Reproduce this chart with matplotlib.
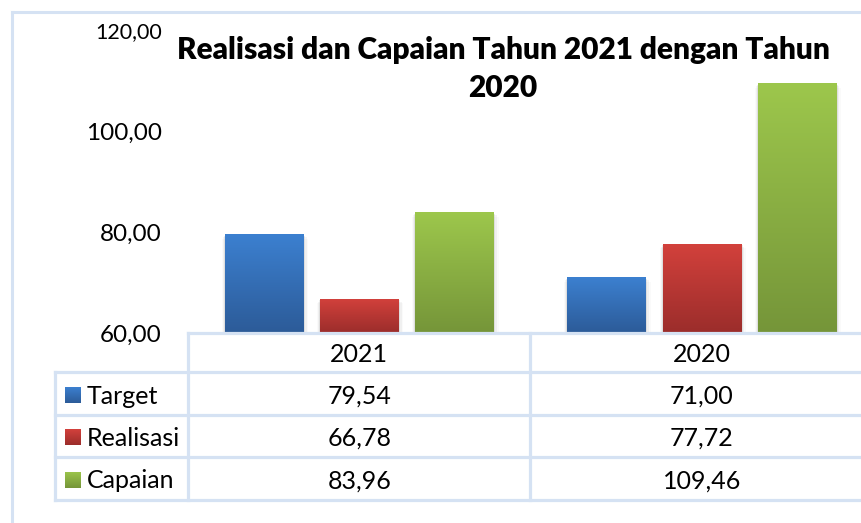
import numpy as np
import matplotlib
matplotlib.use("Agg")
import matplotlib.pyplot as plt
from matplotlib.lines import Line2D
from matplotlib.patches import Rectangle
from matplotlib.colors import LinearSegmentedColormap

# ---- data ----
categories = ["2021", "2020"]
series_names = ["Target", "Realisasi", "Capaian"]
target = [79.54, 71.00]
realisasi = [66.78, 77.72]
capaian = [83.96, 109.46]
yticks = [60, 80, 100, 120]
title_line1 = "Realisasi dan Capaian Tahun 2021 dengan Tahun"
title_line2 = "2020"

series_values = [target, realisasi, capaian]
grad = [("#3C80D0", "#2C5B98"), ("#D3413C", "#9B2D2B"), ("#9DC74C", "#759539")]

W, H = 861, 523
plt.rcParams['font.family'] = ['Lato', 'DejaVu Sans']
fig = plt.figure(figsize=(W / 100, H / 100), dpi=100)
fig.patch.set_facecolor("white")

def fx(x):
    return x / W

def fy(y):
    return 1 - y / H

grid_c = "#D5E2F3"
fs = 18

# outer chart border
fig.add_artist(Line2D([fx(12), fx(12)], [fy(12), fy(530)], color=grid_c, lw=2.2))
fig.add_artist(Line2D([fx(12), fx(870)], [fy(12), fy(12)], color=grid_c, lw=2.2))

# plot axes: x from 188 to 872 px, y 60 at 333 px, 120 at 30 px
left, right = 188, 873
ybot, ytop = 333, 30
ax = fig.add_axes([fx(left), fy(ybot), (right - left) / W, (ybot - ytop) / H])
ax.set_xlim(-0.5, 1.5)
ax.set_ylim(60, 120)
ax.patch.set_alpha(0)
for s in ax.spines.values():
    s.set_visible(False)
ax.set_xticks([])
ax.set_yticks(yticks)
ax.set_yticklabels([f"{v:.2f}".replace(".", ",") for v in yticks], fontsize=17.5)
ax.get_yticklabels()[-1].set_fontsize(15.5)
ax.tick_params(axis="y", length=0, pad=19)

x = np.arange(len(categories))
bw = 0.228
step = 0.278
grad_img = np.linspace(1, 0, 256).reshape(-1, 1)
for i, (vals, (ctop, cbot)) in enumerate(zip(series_values, grad)):
    cmap = LinearSegmentedColormap.from_list(f"g{i}", [cbot, ctop])
    bars = ax.bar(x + (i - 1) * step, [v - 60 for v in vals], bw, bottom=60,
                  color=ctop, zorder=2)
    for b in bars:
        bx, by = b.get_x(), b.get_y()
        w, h = b.get_width(), b.get_height()
        # soft shadow
        for k, a in enumerate([0.07, 0.04, 0.02]):
            d = 0.005 * (k + 1)
            sh = Rectangle((bx - d * 0.6, by), w + d * 1.6, h - 0.3 * (k + 1),
                           facecolor="black", alpha=a, lw=0, zorder=1)
            ax.add_patch(sh)
        im = ax.imshow(grad_img, cmap=cmap, aspect="auto",
                       extent=[bx, bx + w, by, by + h], zorder=3, interpolation="bilinear")
        im.set_clip_path(b)
ax.set_xlim(-0.5, 1.5)
ax.set_ylim(60, 120)

# title
fig.text(fx(503), fy(50), title_line1, ha="center", va="center", fontsize=21.5, fontweight="heavy")
fig.text(fx(503), fy(88), title_line2, ha="center", va="center", fontsize=21.5, fontweight="heavy")

# data table
lw = 2.3
row_y = [333, 372, 415, 457, 500]
for j, yy in enumerate(row_y):
    x0 = 188 if j == 0 else 55
    fig.add_artist(Line2D([fx(x0), fx(870)], [fy(yy), fy(yy)], color=grid_c, lw=lw))
fig.add_artist(Line2D([fx(55), fx(55)], [fy(372), fy(500)], color=grid_c, lw=lw))
col_x = [188, 530]
for cx in col_x:
    fig.add_artist(Line2D([fx(cx), fx(cx)], [fy(333), fy(500)], color=grid_c, lw=lw))

# header
xdisp = ax.transData.transform(np.column_stack([x, np.full(len(x), 60)]))
xcent = fig.transFigure.inverted().transform(xdisp)[:, 0]
for xc, cat in zip(xcent, categories):
    fig.text(xc, fy(354), cat, ha="center", va="center", fontsize=fs)

row_centers = [396, 438, 481]
for (name, vals, (ctop, cbot), ry) in zip(series_names, series_values, grad, row_centers):
    # legend key
    kax = fig.add_axes([fx(65), fy(ry + 7), 16 / W, 16 / H])
    kax.imshow(grad_img, cmap=LinearSegmentedColormap.from_list("k", [cbot, ctop]),
               aspect="auto", extent=[0, 1, 0, 1])
    kax.axis("off")
    fig.text(fx(87), fy(ry), name, ha="left", va="center", fontsize=fs)
    for xc, v in zip(xcent, vals):
        fig.text(xc, fy(ry), f"{v:.2f}".replace(".", ","), ha="center", va="center", fontsize=fs)

fig.savefig("out.png", dpi=100)
